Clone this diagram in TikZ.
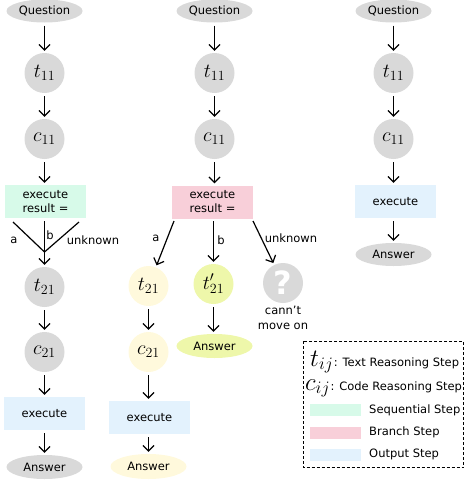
\RequirePackage{fix-cm}
\documentclass[tikz,border=0pt]{standalone}
\usepackage{fontspec}
\setmainfont{DejaVu Sans}
\usetikzlibrary{arrows.meta,shapes.geometric}
\definecolor{ngray}{RGB}{217,217,217}
\definecolor{ngreen}{RGB}{215,250,233}
\definecolor{npink}{RGB}{248,207,217}
\definecolor{nblue}{RGB}{227,242,253}
\definecolor{ncream}{RGB}{255,249,220}
\definecolor{nlime}{RGB}{238,247,170}
\begin{document}
\begin{tikzpicture}[x=1pt,y=-1pt,
  every node/.style={font=\fontsize{11.5}{14}\selectfont, inner sep=0pt},
  circ/.style={circle, minimum size=40pt, fill=ngray, font=\fontsize{20}{22}\selectfont},
  ell/.style={ellipse, minimum width=76pt, minimum height=23pt, fill=ngray},
  box/.style={rectangle, minimum width=81pt, minimum height=33pt, align=left},
  arr/.style={-{Straight Barb[length=5.5pt,width=11pt,line width=1.2pt]}, line width=1.2pt, shorten >=2pt, shorten <=3pt},
  ln/.style={line width=1.2pt},
  mth/.style={font=\fontsize{25}{27}\selectfont},
  swatch/.style={rectangle, minimum width=51pt, minimum height=12pt}
]
\useasboundingbox (0,0) rectangle (465,482);

% ---------- column 1 ----------
\node[ell] (q1) at (44.5,11) {Question};
\node[circ] (t1) at (44.5,73) {$t_{11}$};
\node[circ] (c1) at (44.5,139) {$c_{11}$};
\node[box, fill=ngreen] (e1) at (45.5,201.5) {execute\\result =};
\node[circ] (t2) at (44.5,287) {$t_{21}$};
\node[circ] (c2) at (44.5,352) {$c_{21}$};
\node[box, fill=nblue] (x1) at (44.5,413.5) {execute};
\node[ell, minimum height=24pt] (a1) at (44.5,467) {Answer};
\draw[arr] (q1) -- (t1);
\draw[arr] (t1) -- (c1);
\draw[arr] (c1) -- (c1 |- e1.north);
\coordinate (m1) at (44.5,252);
\coordinate (la1) at (13,222);
\coordinate (lu1) at (79,222);
\draw[ln] (la1) -- (m1);
\draw[ln] (lu1) -- (m1);
\draw[arr] (t2 |- e1.south) -- (t2);
\draw[arr] (t2) -- (c2);
\draw[arr] (c2) -- (x1);
\draw[arr] (x1) -- (a1);
\node (la1t) at (14,240) {a};
\node (lb1t) at (50,235) {b};
\node (lu1t) at (93,240) {unknown};

% ---------- column 2 ----------
\node[ell] (q2) at (214.5,11) {Question};
\node[circ] (t3) at (214.5,73) {$t_{11}$};
\node[circ] (c3) at (214.5,139) {$c_{11}$};
\node[box, fill=npink] (e2) at (212.5,202) {execute\\result =};
\draw[arr] (q2) -- (t3);
\draw[arr] (t3) -- (c3);
\draw[arr] (c3) -- (c3 |- e2.north);

% branch a
\node[circ, fill=ncream] (t4) at (148.5,286) {$t_{21}$};
\node[circ, fill=ncream] (c4) at (148.5,352) {$c_{21}$};
\node[box, fill=nblue] (x2) at (149.5,417.5) {execute};
\node[ell, fill=ncream, minimum height=25pt] (a2) at (148.5,466.5) {Answer};
\coordinate (sa) at (174,221);
\draw[arr, shorten <=0pt] (sa) -- (t4);
\draw[arr] (t4) -- (c4);
\draw[arr] (c4) -- (c4 |- x2.north);
\draw[arr] (a2 |- x2.south) -- (a2);

% branch b
\node[circ, fill=nlime] (t5) at (213.5,284) {$t'_{21}$};
\node[ell, fill=nlime, minimum height=24pt] (a3) at (214.5,346) {Answer};
\coordinate (sb) at (213.5,221);
\draw[arr, shorten <=0pt] (sb) -- (t5);
\draw[arr] (t5) -- (t5 |- a3.north);

% branch unknown
\node[circle, minimum size=40pt, fill=ngray, text=white, font=\fontsize{32}{34}\bfseries] (qm) at (283,283) {?};
\node[align=center, font=\fontsize{11.5}{15}\selectfont] (cm) at (283,318) {cann't\\move on};
\coordinate (su) at (253,221);
\draw[arr, shorten <=0pt] (su) -- (qm);

\node (la2t) at (156,238) {a};
\node (lb2t) at (221,240) {b};
\node (lu2t) at (291,238) {unknown};

% ---------- column 3 ----------
\node[ell] (q3) at (393.5,11) {Question};
\node[circ] (t6) at (393.5,73) {$t_{11}$};
\node[circ] (c6) at (393.5,139) {$c_{11}$};
\node[box, fill=nblue] (x3) at (395.5,201.5) {execute};
\node[ell] (a4) at (393.5,254.5) {Answer};
\draw[arr] (q3) -- (t6);
\draw[arr] (t6) -- (c6);
\draw[arr] (c6) -- (c6 |- x3.north);
\draw[arr] (a4 |- x3.south) -- (a4);

% ---------- legend ----------
\draw[line width=0.9pt, dash pattern=on 3pt off 2pt] (303,341) rectangle (463.5,467.5);
\node[mth, anchor=base west] (lt) at (310,366) {$t_{ij}$};
\node[anchor=base west] (ltt) at (lt.base east) {: Text Reasoning Step};
\node[mth, anchor=base west] (lc) at (305,390) {$c_{ij}$};
\node[anchor=base west] (lct) at (lc.base east) {: Code Reasoning Step};
\node[swatch, fill=ngreen] (sw1) at (335.5,410) {};
\node[swatch, fill=npink] (sw2) at (335.5,432.5) {};
\node[swatch, fill=nblue] (sw3) at (335.5,454.5) {};
\node[anchor=west] (sl1) at (369,410) {Sequential Step};
\node[anchor=west] (sl2) at (369,432.5) {Branch Step};
\node[anchor=west] (sl3) at (369,454.5) {Output Step};
\end{tikzpicture}
\end{document}
